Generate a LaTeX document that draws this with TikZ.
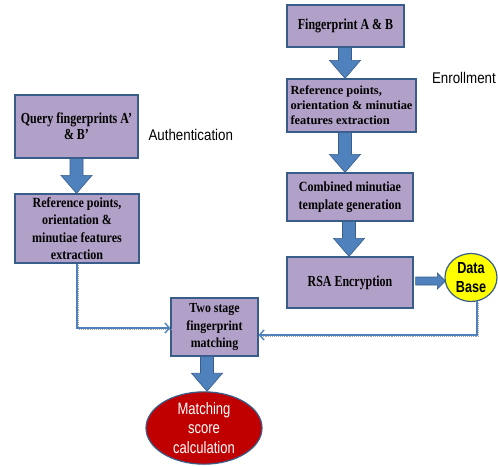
\documentclass[tikz,border=0pt]{standalone}
\usepackage{fontspec}
\setmainfont{Liberation Serif}
\newfontfamily\serA[FakeStretch=0.78]{Liberation Serif}
\newfontfamily\serB[FakeStretch=0.86]{Liberation Serif}
\newfontfamily\narrowA[FakeStretch=0.86]{Liberation Sans}
\newfontfamily\narrowB[FakeStretch=0.79]{Liberation Sans}
\usetikzlibrary{arrows.meta,calc,shapes.geometric}
\definecolor{boxfill}{HTML}{B1A0C7}
\definecolor{boxline}{HTML}{385D8A}
\definecolor{arrfill}{HTML}{4F81BD}
\definecolor{dbfill}{HTML}{FFFF00}
\definecolor{msfill}{HTML}{C00000}
\tikzset{
  procbox/.style={draw=boxline, line width=1.2pt, fill=boxfill, inner sep=2pt, align=center},
  fontA/.style={font=\serA\bfseries\fontsize{15.3}{16}\selectfont},
  fontB/.style={font=\serB\bfseries\fontsize{14}{17.5}\selectfont},
  fontC/.style={font=\bfseries\fontsize{12.4}{15}\selectfont},
  lbl/.style={font=\narrowA\fontsize{15.5}{17}\selectfont},
  barrow/.style={fill=arrfill, draw=boxline, line width=0.6pt},
  conn/.style={draw=arrfill, line width=1.7pt,
    -{Straight Barb[length=4.5pt,width=10pt,line width=1.4pt]},
    preaction={draw=gray!70, densely dotted, line width=1.1pt,
      transform canvas={shift={(1.3pt,-1.7pt)}}, -}},
}
\newcommand\vblock[3]{% x, upper node, lower node
  \path let \p1=(#2.south), \p2=(#3.north) in
    [barrow] (#1-6.5pt,\y1) -- (#1+6.5pt,\y1) -- (#1+6.5pt,\y2+18pt) -- (#1+15.5pt,\y2+18pt)
    -- (#1,\y2) -- (#1-15.5pt,\y2+18pt) -- (#1-6.5pt,\y2+18pt) -- cycle;}
\begin{document}
\begin{tikzpicture}[x=1pt,y=-1pt]
\useasboundingbox (0,0) rectangle (498,466);
% left column
\node[procbox, fontA, minimum width=123pt, minimum height=63pt] (q) at (76.5,126.5) {Query fingerprints A’\\ \& B’};
\node[procbox, fontB, minimum width=124pt, minimum height=69pt] (rl) at (77,228.5) {Reference points,\\ orientation \&\\ minutiae features\\ extraction};
\node[lbl, anchor=west] (auth) at (145,135) {Authentication};
% right column
\node[procbox, fontA, minimum width=117pt, minimum height=42pt] (fa) at (345.5,26) {Fingerprint A \& B};
\node[procbox, fontC, minimum width=129pt, minimum height=53pt, align=left] (rr) at (351.5,105.5) {Reference points,\\ orientation \& minutiae\\ features extraction};
\node[procbox, fontB, minimum width=126pt, minimum height=48pt] (cm) at (350,197) {Combined minutiae\\ template generation};
\node[procbox, fontA, minimum width=126pt, minimum height=51pt] (rsa) at (350,282.5) {RSA Encryption};
\node[lbl, anchor=east, inner sep=1pt] (enr) at (497,78) {Enrollment};
\node[ellipse, draw=boxline, line width=1.2pt, fill=dbfill, minimum width=52pt, minimum height=48pt, inner sep=0pt, align=center,
  font=\narrowB\bfseries\fontsize{16}{19.5}\selectfont] (db) at (471,277.5) {Data\\ Base};
% bottom
\node[procbox, fontB, font=\serB\bfseries\fontsize{13.8}{17.5}\selectfont, minimum width=87pt, minimum height=58pt] (ts) at (214.5,327) {Two stage\\ fingerprint\\ matching};
\node[ellipse, draw=boxline, line width=1.2pt, fill=msfill, minimum width=116pt, minimum height=70pt, inner sep=0pt, align=center,
  text=white, font=\narrowB\fontsize{16.5}{19.5}\selectfont] (ms) at (204,428) {Matching\\ score\\ calculation};
% block arrows
\vblock{76.5pt}{q}{rl}
\vblock{345pt}{fa}{rr}
\vblock{345pt}{rr}{cm}
\vblock{349pt}{cm}{rsa}
\vblock{207pt}{ts}{ms}
\path let \p1=(rsa.east), \p2=(db.west) in
  [barrow] (\x1+2pt,-277pt) -- (\x2-7pt,-277pt) -- (\x2-7pt,-273pt) -- (\x2+1pt,-281pt)
  -- (\x2-7pt,-289pt) -- (\x2-7pt,-285pt) -- (\x1+2pt,-285pt) -- cycle;
% thin connectors
\coordinate (dbout) at ($(db.south)+(6,-1)$);
\coordinate (tsin) at ($(ts.east)+(0,8)$);
\coordinate (tsinl) at ($(ts.west)+(0,1)$);
\draw[conn] (rl.south) |- (tsinl);
\draw[conn] (dbout) |- (tsin);
\end{tikzpicture}
\end{document}
